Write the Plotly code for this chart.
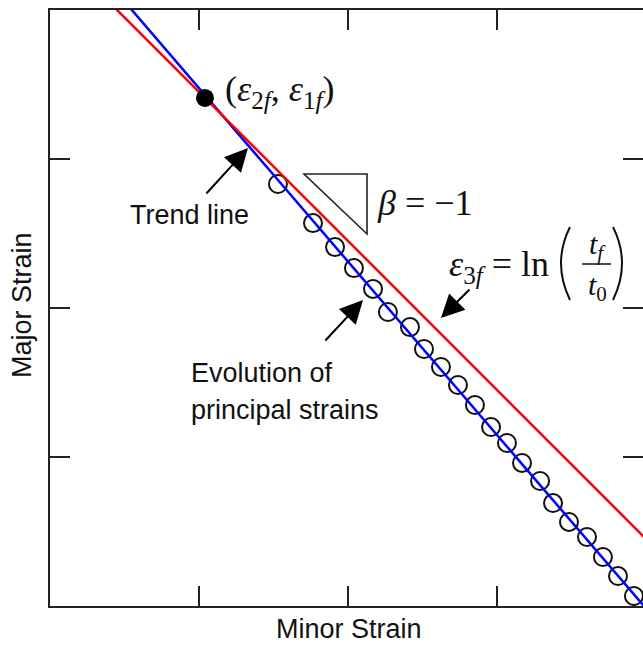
import plotly.graph_objects as go

# ---- data (data units; axes run 0..4) ----
circle_x = [1.530, 1.765, 1.913, 2.040, 2.168, 2.268, 2.416, 2.510, 2.624, 2.738, 2.852,
            2.960, 3.067, 3.168, 3.289, 3.376, 3.483, 3.604, 3.711, 3.812, 3.919]
circle_y = [2.832, 2.570, 2.409, 2.268, 2.128, 1.973, 1.872, 1.725, 1.604, 1.483, 1.349,
            1.201, 1.094, 0.960, 0.839, 0.691, 0.564, 0.463, 0.329, 0.201, 0.067]
trend_x = [0.40, 4.00]
trend_y = [4.174, -0.016]
eps3_x = [0.30, 4.00]
eps3_y = [4.15, 0.45]
final_x = [1.04]
final_y = [3.41]
tick_vals = [1, 2, 3]

W, H = 643, 645
L, R, T, B = 50, 643, 10, 606
PPU = 149.0  # pixels per unit


def dx(px):
    return (px - L) / PPU


def dy(py):
    return (B - py) / PPU


def fx(px):
    return (px - L) / (R - L)


def fy(py):
    return (B - py) / (B - T)


fig = go.Figure()
fig.add_trace(go.Scatter(x=circle_x, y=circle_y, mode="markers",
                         marker=dict(symbol="circle-open", size=18, color="#111",
                                     line=dict(width=2, color="#111")),
                         showlegend=False, hoverinfo="skip"))
fig.add_trace(go.Scatter(x=trend_x, y=trend_y, mode="lines",
                         line=dict(color="#0000ff", width=2.5),
                         showlegend=False, hoverinfo="skip"))
fig.add_trace(go.Scatter(x=eps3_x, y=eps3_y, mode="lines",
                         line=dict(color="#ff0000", width=2.5),
                         showlegend=False, hoverinfo="skip"))
fig.add_trace(go.Scatter(x=final_x, y=final_y, mode="markers",
                         marker=dict(symbol="circle", size=18, color="#000"),
                         showlegend=False, hoverinfo="skip"))
# invisible trace to activate right-hand mirrored tick axis
fig.add_trace(go.Scatter(x=[None], y=[None], yaxis="y2", showlegend=False, hoverinfo="skip"))

axis_col = "#222"
fig.update_layout(
    width=W, height=H,
    margin=dict(l=L, r=W - R, t=T, b=H - B, pad=0),
    plot_bgcolor="white", paper_bgcolor="white",
    xaxis=dict(range=[0, (R - L) / PPU], tickvals=tick_vals, ticks="inside", ticklen=20,
               tickwidth=2, tickcolor=axis_col, showline=True, linewidth=2,
               linecolor=axis_col, mirror="ticks", showgrid=False, zeroline=False,
               showticklabels=False),
    yaxis=dict(range=[0, (B - T) / PPU], tickvals=tick_vals, ticks="inside", ticklen=20,
               tickwidth=2, tickcolor=axis_col, showline=True, linewidth=2,
               linecolor=axis_col, mirror=False, showgrid=False, zeroline=False,
               showticklabels=False),
    yaxis2=dict(range=[0, (B - T) / PPU], overlaying="y", side="right", tickvals=tick_vals,
                ticks="inside", ticklen=20, tickwidth=2, tickcolor=axis_col,
                showline=False, showgrid=False, zeroline=False, showticklabels=False),
)

sans = "Liberation Sans, Arial, sans-serif"
serif = "Liberation Serif, Times New Roman, serif"
txt_col = "#111"


def label(text, px, py, size=27, font=sans, xanchor="center", angle=0):
    fig.add_annotation(x=fx(px), y=fy(py), xref="paper", yref="paper", text=text,
                       showarrow=False, xanchor=xanchor, yanchor="middle", textangle=angle,
                       font=dict(family=font, size=size, color=txt_col), borderpad=0)


def arrow(tip_px, tip_py, tail_px, tail_py):
    fig.add_annotation(x=fx(tip_px), y=fy(tip_py), xref="paper", yref="paper",
                       ax=tail_px - tip_px, ay=tail_py - tip_py, axref="pixel", ayref="pixel",
                       text="", showarrow=True, arrowhead=2, arrowsize=2.3, arrowwidth=2,
                       arrowcolor="#000", standoff=0)


# axis titles
label("Minor Strain", 349, 629)
label("Major Strain", 22, 305, angle=-90)

# annotations
label("(<i>ε</i><sub>2<i>f</i></sub>, <i>ε</i><sub>1<i>f</i></sub>)", 224, 91, size=36,
      font=serif, xanchor="left")
label("<i>β</i> = −1", 376, 203, size=36, font=serif, xanchor="left")
label("<i>ε</i><sub>3<i>f</i></sub> = ln", 550, 266, size=36, font=serif, xanchor="right")
label("<i>t</i><sub><i>f</i></sub>", 597, 246, size=30, font=serif)
label("<i>t</i><sub>0</sub>", 597, 287, size=30, font=serif)
label("Trend line", 189, 215)
label("Evolution of", 190, 373, xanchor="left")
label("principal strains", 190, 410, xanchor="left")

arrow(248, 148, 205, 195)
arrow(363, 300, 324, 342)
arrow(441, 318, 471, 288)

# slope triangle
tri = [(304, 174), (367, 174), (367, 234)]
path = "M {} {} L {} {} L {} {} Z".format(*[v for p in tri for v in (dx(p[0]), dy(p[1]))])
fig.add_shape(type="path", path=path, xref="x", yref="y",
              line=dict(color="#222", width=1.6))

# fraction bar and large parentheses
fig.add_shape(type="line", x0=dx(582), x1=dx(611), y0=dy(264), y1=dy(264), xref="x", yref="y",
              line=dict(color="#111", width=1.5))
for (x_end, x_mid) in [(570, 552), (613, 631)]:
    p = "M {} {} Q {} {} {} {}".format(dx(x_end), dy(227), dx(x_mid), dy(263), dx(x_end), dy(300))
    fig.add_shape(type="path", path=p, xref="x", yref="y", line=dict(color="#111", width=2))

fig.write_html("out.html")
